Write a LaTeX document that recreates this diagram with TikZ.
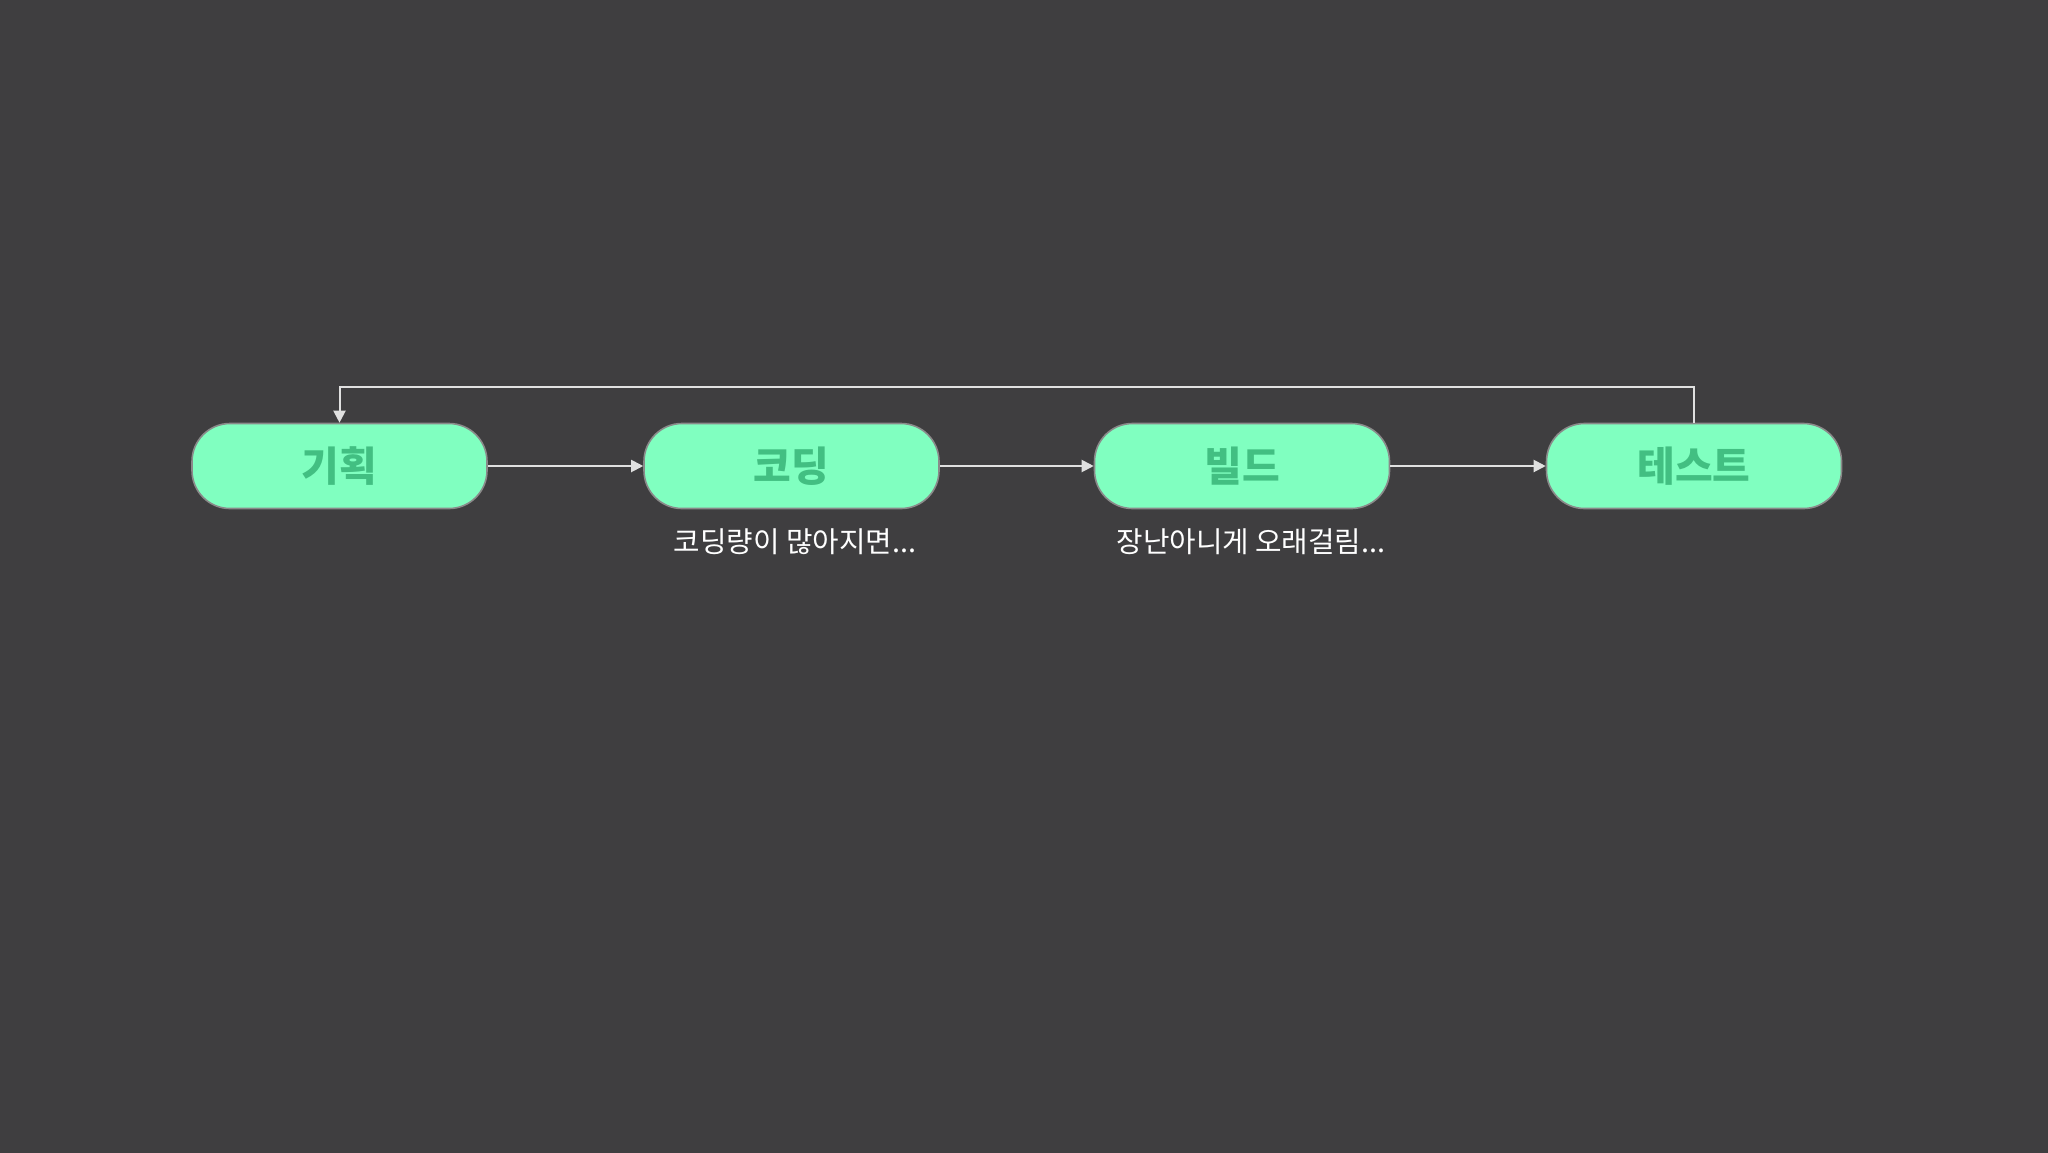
\documentclass[tikz,border=0pt]{standalone}
\usepackage{fontspec}
\newfontfamily\kr{Noto Sans CJK KR}
\usetikzlibrary{arrows.meta}
\definecolor{bg}{HTML}{3F3E40}
\definecolor{boxfill}{HTML}{80FFC0}
\definecolor{boxline}{HTML}{8A8A8A}
\definecolor{boxtext}{HTML}{42BF82}
\definecolor{wire}{HTML}{E0E0E0}
\tikzset{
  stagebox/.style={draw=boxline, line width=0.8pt, fill=boxfill, rounded corners=19pt,
    minimum width=147.5pt, minimum height=42.5pt, inner sep=0pt,
    font=\kr\bfseries\fontsize{20.5}{22}\selectfont, text=boxtext},
  note/.style={font=\kr\fontsize{14.4}{16}\selectfont, text=white, inner sep=0pt},
  flow/.style={draw=wire, line width=1pt, -{Triangle[length=6pt,width=6pt]}}
}
\begin{document}
\begin{tikzpicture}[x=0.5pt,y=-0.5pt]
\useasboundingbox (0,0) rectangle (2048,1152);
\fill[bg] (-10,-10) rectangle (2058,1162);
\node[stagebox] (a) at (339.5,466) {기획};
\node[stagebox] (b) at (791.5,466) {코딩};
\node[stagebox] (c) at (1242,466) {빌드};
\node[stagebox] (d) at (1694,466) {테스트};
\node[note] (nb) at (795,542) {코딩량이 많아지면...};
\node[note] (nc) at (1251,542) {장난아니게 오래걸림...};
\draw[flow] (a) -- (b);
\draw[flow] (b) -- (c);
\draw[flow] (c) -- (d);
\coordinate (top) at (0,386.6);
\draw[flow] (d.north) |- (top -| a.north) -- (a.north);
\end{tikzpicture}
\end{document}
